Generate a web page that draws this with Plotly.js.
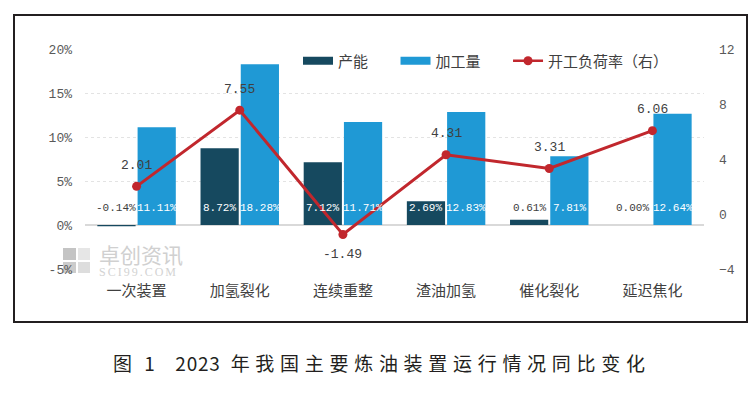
<!DOCTYPE html>
<html><head><meta charset="utf-8">
<script src="https://cdn.plot.ly/plotly-3.0.1.min.js"></script>
<style>html,body{margin:0;padding:0;background:#fff;}#chart{width:756px;height:399px;}</style>
</head><body><div id="chart"></div>
<script>
const categories = ['一次装置','加氢裂化','连续重整','渣油加氢','催化裂化','延迟焦化'];
const capacity = [-0.14, 8.72, 7.12, 2.69, 0.61, 0.00];
const throughput = [11.11, 18.28, 11.71, 12.83, 7.81, 12.64];
const loadRate = [2.01, 7.55, -1.49, 4.31, 3.31, 6.06];
const leftTicks = [-5, 0, 5, 10, 15, 20];
const rightTicks = [-4, 0, 4, 8, 12];

const darkBlue = '#16495f', lightBlue = '#1f99d5', red = '#c1272d';
const mono = 'Liberation Mono, DejaVu Sans Mono, monospace';
const cjk = 'Noto Sans CJK SC, sans-serif';
const bargap = 0.22, bargroupgap = 0.05;
const slot = (1 - bargap) / 2;
const off = slot / 2;
const pad = '\u2003\u2002';

const traces = [
  {type:'bar', name:'产能', x:categories, y:capacity, marker:{color:darkBlue}, hoverinfo:'skip', showlegend:false},
  {type:'bar', name:'加工量', x:categories, y:throughput, marker:{color:lightBlue}, hoverinfo:'skip', showlegend:false},
  {type:'scatter', mode:'lines+markers', name:'开工负荷率（右）', x:categories, y:loadRate, yaxis:'y2',
   line:{color:red, width:3}, marker:{color:red, size:9}, hoverinfo:'skip', showlegend:false},
  // legend keys
  {type:'scatter', mode:'lines', name:'产能' + pad, x:[null], y:[null], line:{color:darkBlue, width:8}, hoverinfo:'skip'},
  {type:'scatter', mode:'lines', name:'加工量' + pad, x:[null], y:[null], line:{color:lightBlue, width:8}, hoverinfo:'skip'},
  {type:'scatter', mode:'lines+markers', name:'开工负荷率（右）', x:[null], y:[null], yaxis:'y2',
   line:{color:red, width:2.5}, marker:{color:red, size:9}, hoverinfo:'skip'}
];

const annotations = [];
categories.forEach((c, i) => {
  const small = Math.abs(capacity[i]) < 2;
  annotations.push({xref:'x', yref:'y', x:i - off, y:0, yanchor:'bottom', yshift:9, showarrow:false,
    text:capacity[i].toFixed(2) + '%', font:{family:mono, size:11, color: small ? '#404040' : '#ffffff'}});
  annotations.push({xref:'x', yref:'y', x:i + off, y:0, yanchor:'bottom', yshift:9, showarrow:false,
    text:throughput[i].toFixed(2) + '%', font:{family:mono, size:11, color:'#ffffff'}});
  const below = loadRate[i] < 0;
  annotations.push({xref:'x', yref:'y2', x:i, y:loadRate[i], yanchor:'middle', yshift: below ? -20 : 21, showarrow:false,
    text:loadRate[i].toFixed(2), font:{family:mono, size:13, color:'#404040'}});
});

const px = v => (v - 85) / 619, py = v => (269 - v) / 220;
// watermark
annotations.push({xref:'paper', yref:'paper', x:px(97), y:py(254), xanchor:'left', yanchor:'middle', showarrow:false,
  text:'卓创资讯', font:{family:cjk, size:21, color:'#d0d0d0'}});
annotations.push({xref:'paper', yref:'paper', x:px(97), y:py(272), xanchor:'left', yanchor:'middle', showarrow:false,
  text:'<span style="letter-spacing:2px">SCI99.COM</span>', font:{family:'Liberation Serif, serif', size:12, color:'#d3d3d3'}});
// caption
annotations.push({xref:'paper', yref:'paper', x:px(382), y:py(362), xanchor:'center', yanchor:'middle', showarrow:false,
  text:'<span style="letter-spacing:4px">图\u00a01\u00a0\u00a0</span><span style="letter-spacing:0.8px">2023</span><span style="letter-spacing:5.7px">\u00a0年我国主要炼油装置运行情况同比变化</span>',
  font:{family:cjk, size:19, color:'#231f20'}});

const shapes = [
  {type:'rect', xref:'paper', yref:'paper', x0:px(14), x1:px(747), y0:py(322), y1:py(15), line:{color:'#231f20', width:2}},
  {type:'rect', xref:'paper', yref:'paper', x0:px(63), x1:px(76), y0:py(260), y1:py(248), fillcolor:'#c4c4c4', line:{width:0}, layer:'below'},
  {type:'rect', xref:'paper', yref:'paper', x0:px(78), x1:px(90), y0:py(260), y1:py(248), fillcolor:'#e6e6e6', line:{width:0}, layer:'below'},
  {type:'rect', xref:'paper', yref:'paper', x0:px(63), x1:px(76), y0:py(273), y1:py(262), fillcolor:'#cccccc', line:{width:0}, layer:'below'},
  {type:'rect', xref:'paper', yref:'paper', x0:px(78), x1:px(90), y0:py(273), y1:py(262), fillcolor:'#dddddd', line:{width:0}, layer:'below'}
];

const layout = {
  width:756, height:399,
  margin:{l:85, r:52, t:49, b:130},
  paper_bgcolor:'#ffffff', plot_bgcolor:'#ffffff',
  barmode:'group', bargap:bargap, bargroupgap:bargroupgap,
  showlegend:true,
  legend:{orientation:'h', x:px(298), y:py(61), xanchor:'left', yanchor:'middle', traceorder:'normal',
    font:{family:cjk, size:15, color:'#404040'}, bgcolor:'rgba(0,0,0,0)'},
  xaxis:{type:'category', tickfont:{family:cjk, size:15, color:'#404040'}, showgrid:false, zeroline:false,
    showline:false, ticks:'', ticklabelstandoff:11, range:[-0.5, 5.5]},
  yaxis:{range:[-5, 20], tickvals:leftTicks, ticktext:leftTicks.map(v => v + '%'),
    tickfont:{family:mono, size:13, color:'#595959'}, showgrid:true, gridcolor:'#e3e3e3', griddash:'dot',
    zeroline:true, zerolinecolor:'#d9d9d9', zerolinewidth:1.5, showline:false, ticks:'', ticklabelstandoff:12},
  yaxis2:{range:[-4, 12], tickvals:rightTicks, overlaying:'y', side:'right', showgrid:false, zeroline:false,
    tickfont:{family:mono, size:13, color:'#595959'}, showline:false, ticks:'', ticklabelstandoff:14},
  annotations:annotations, shapes:shapes
};
Plotly.newPlot('chart', traces, layout, {displayModeBar:false, staticPlot:true});
</script></body></html>
